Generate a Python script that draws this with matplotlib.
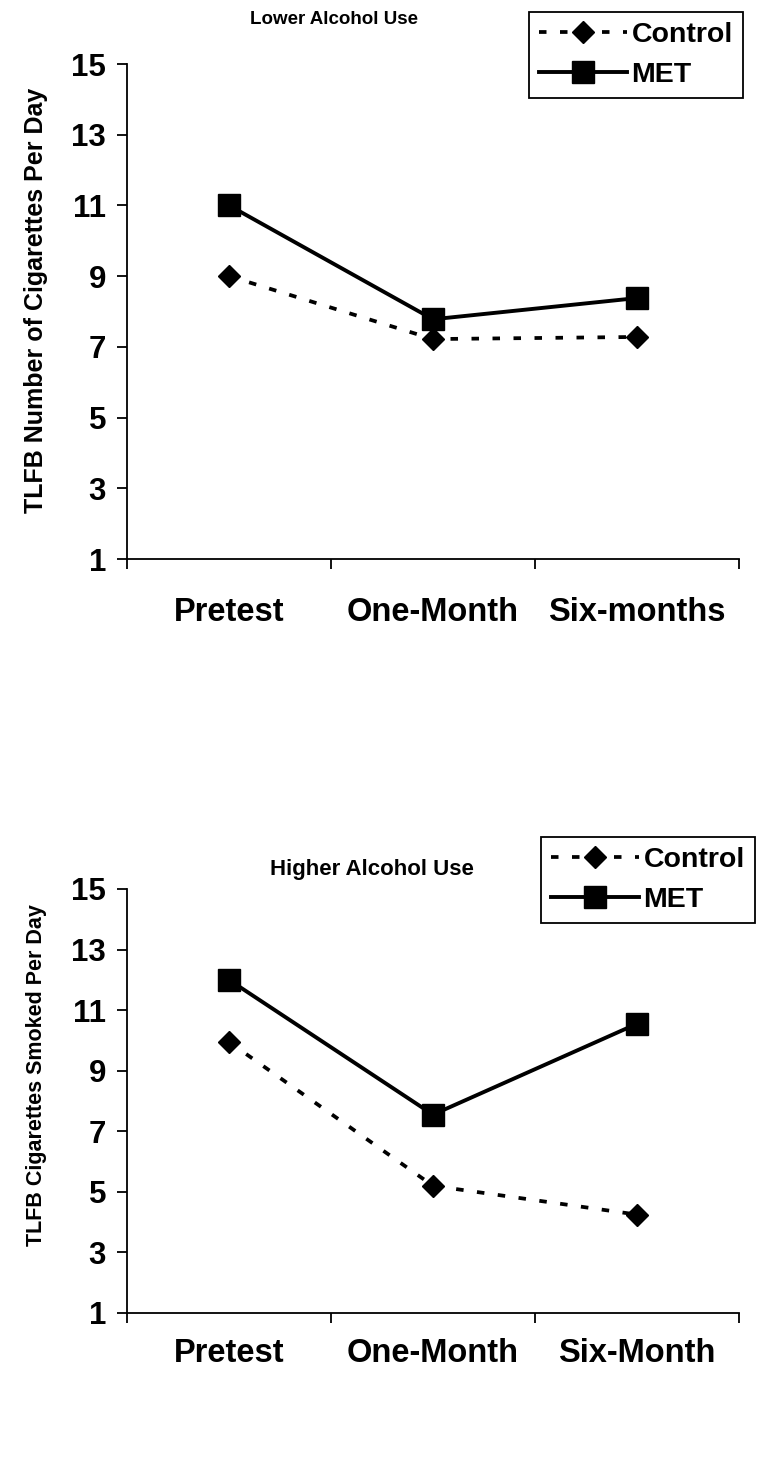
import matplotlib
matplotlib.use("Agg")
import matplotlib.pyplot as plt

plt.rcParams["font.family"] = ["Liberation Sans", "DejaVu Sans"]
plt.rcParams["font.weight"] = "bold"

# data
timepoints_top = ["Pretest", "One-Month", "Six-months"]
timepoints_bottom = ["Pretest", "One-Month", "Six-Month"]
control_lower = [9.0, 7.22, 7.28]
met_lower = [11.0, 7.78, 8.38]
control_higher = [9.95, 5.2, 4.25]
met_higher = [12.0, 7.55, 10.55]
y_ticks = [1, 3, 5, 7, 9, 11, 13, 15]

W, H = 775, 1464
fig = plt.figure(figsize=(W / 100, H / 100), dpi=100)


def px_axes(left, top, right, bottom):
    return fig.add_axes([left / W, 1 - bottom / H, (right - left) / W, (bottom - top) / H])


def draw_panel(ax, labels, control, met, title, title_xy, title_size,
               ylabel, ylabel_size, ylabel_y, xpad):
    x = list(range(len(labels)))
    ax.plot(x, control, color="black", lw=2.7, linestyle=(0, (2.0, 3.6)),
            marker="D", markersize=11.5, label="Control")
    ax.plot(x, met, color="black", lw=2.8, linestyle="-",
            marker="s", markersize=15.5, label="MET")
    ax.set_xlim(-0.5, len(labels) - 0.5)
    ax.set_ylim(1, 15)
    ax.set_yticks(y_ticks)
    ax.set_yticklabels([str(t) for t in y_ticks], fontsize=22.5, fontweight="bold")
    ax.set_xticks(x)
    ax.set_xticklabels(labels, fontsize=23.5, fontweight="bold")
    ax.set_xticks([i - 0.5 for i in range(len(labels) + 1)], minor=True)
    ax.tick_params(axis="x", which="major", length=0, pad=xpad)
    ax.tick_params(axis="x", which="minor", length=10 * 0.72, width=1.3, direction="out")
    ax.tick_params(axis="y", length=10 * 0.72, width=1.3, direction="out", pad=11 * 0.72)
    for side in ("top", "right"):
        ax.spines[side].set_visible(False)
    for side in ("left", "bottom"):
        ax.spines[side].set_linewidth(1.3)
    ax.set_ylabel(ylabel, fontsize=ylabel_size, fontweight="bold", va="center")
    ax.yaxis.set_label_coords(-0.148, ylabel_y)
    ax.set_title(title, x=title_xy[0], y=title_xy[1], va="center", pad=0,
                 fontsize=title_size, fontweight="bold")


ax1 = px_axes(127, 64, 739, 559)
draw_panel(ax1, timepoints_top, control_lower, met_lower, "Lower Alcohol Use",
           (0.338, 1.09), 13.5, "TLFB Number of Cigarettes Per Day", 18, 0.523, 27)

ax2 = px_axes(127, 889, 739, 1313)
draw_panel(ax2, timepoints_bottom, control_higher, met_higher, "Higher Alcohol Use",
           (0.400, 1.045), 16, "TLFB Cigarettes Smoked Per Day", 15.5, 0.561, 18)

for ax, anchor in ((ax1, (529, 12)), (ax2, (541, 837))):
    leg = fig.legend(*ax.get_legend_handles_labels(), loc="upper left",
                     bbox_to_anchor=(anchor[0] / W, 1 - anchor[1] / H),
                     bbox_transform=fig.transFigure, borderaxespad=0,
                     fancybox=False, framealpha=1, edgecolor="black",
                     prop={"size": 20.5, "weight": "bold"}, handlelength=3.1,
                     handletextpad=0.15, borderpad=0.35, labelspacing=0.5)
    leg.get_frame().set_linewidth(1.3)

fig.savefig("out.png", dpi=100)
